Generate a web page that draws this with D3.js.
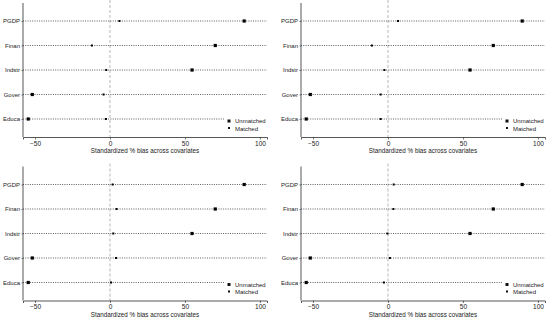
<!DOCTYPE html>
<html>
<head>
<meta charset="utf-8">
<script src="https://cdn.jsdelivr.net/npm/d3@7"></script>
<style>
  body { margin: 0; background: #fff; }
  text { font-family: "Liberation Sans", Arial, sans-serif; fill: #222; }
</style>
</head>
<body>
<svg id="chart" width="550" height="322"></svg>
<script>
// covariates, top to bottom
const covariates = ["PGDP", "Finan", "Indstr", "Gover", "Educa"];
const xTicks = [-50, 0, 50, 100];
const xTitle = "Standardized % bias across covariates";
const legendLabels = ["Unmatched", "Matched"];

// bias before matching (same in every panel)
const unmatched = [89.5, 70.2, 54.7, -51.8, -54.5];
// bias after matching, one array per panel
const matched1 = [6.3, -12.0, -2.5, -4.3, -2.7];
const matched2 = [6.7, -10.7, -2.4, -4.9, -4.9];
const matched3 = [1.8, 4.4, 2.2, 4.0, 0.7];
const matched4 = [3.8, 3.6, -0.4, 1.3, -2.7];

const svg = d3.select("#chart");

const panels = [
  { dx: 0, dy: 0, matched: matched1 },
  { dx: 278, dy: 0, matched: matched2 },
  { dx: 0, dy: 163.5, matched: matched3 },
  { dx: 278, dy: 163.5, matched: matched4 }
];

const plotL = 23, plotR = 267, plotT = 3, plotB = 137;

const x = d3.scaleLinear().domain([-58, 104.7]).range([plotL, plotR]);
const y = d3.scalePoint().domain(covariates).range([plotT, plotB]).padding(0.735);

panels.forEach(p => {
  const g = svg.append("g").attr("transform", `translate(${p.dx},${p.dy})`);

  // zero line
  g.append("line")
    .attr("x1", x(0)).attr("x2", x(0))
    .attr("y1", 0).attr("y2", plotB)
    .attr("stroke", "#999")
    .attr("stroke-width", 0.7)
    .attr("stroke-dasharray", "3,2");

  // dotted row lines
  g.selectAll(".row")
    .data(covariates)
    .enter()
    .append("line")
    .attr("x1", plotL).attr("x2", plotR)
    .attr("y1", d => y(d)).attr("y2", d => y(d))
    .attr("stroke", "#333")
    .attr("stroke-width", 0.8)
    .attr("stroke-dasharray", "1,1.3");

  // legend box (white, covers the end of the last row)
  const lg = g.append("g").attr("transform", `translate(224,${y("Educa") - 2})`);
  lg.append("rect")
    .attr("width", 43).attr("height", 17)
    .attr("fill", "#fff");
  lg.append("rect").attr("x", 3.5).attr("y", 2.5).attr("width", 3).attr("height", 3).attr("fill", "#111");
  lg.append("rect").attr("x", 4).attr("y", 10).attr("width", 2).attr("height", 2).attr("fill", "#111");
  lg.selectAll("text")
    .data(legendLabels)
    .enter()
    .append("text")
    .attr("x", 11)
    .attr("y", (d, i) => 6.2 + i * 7.4)
    .style("font-size", "6px")
    .text(d => d);

  // unmatched markers
  g.selectAll(".unm")
    .data(unmatched)
    .enter()
    .append("rect")
    .attr("x", d => x(d) - 1.6)
    .attr("y", (d, i) => y(covariates[i]) - 1.6)
    .attr("width", 3.2).attr("height", 3.2)
    .attr("fill", "#000");

  // matched markers
  g.selectAll(".mat")
    .data(p.matched)
    .enter()
    .append("rect")
    .attr("x", d => x(d) - 1)
    .attr("y", (d, i) => y(covariates[i]) - 1)
    .attr("width", 2).attr("height", 2)
    .attr("fill", "#000");

  // eix X
  const ax = g.append("g")
    .attr("transform", `translate(0,${plotB})`)
    .call(d3.axisBottom(x).tickValues(xTicks).tickSize(2.5).tickPadding(1.5).tickFormat(d => d < 0 ? "\u2212" + Math.abs(d) : d));
  ax.select(".domain").attr("stroke", "#444").attr("stroke-width", 0.9);
  ax.selectAll(".tick line").attr("stroke", "#444").attr("stroke-width", 0.7);
  ax.selectAll("text").style("font-size", "6.5px").attr("fill", "#222");

  // eix Y
  const ay = g.append("g")
    .attr("transform", `translate(${plotL},0)`)
    .call(d3.axisLeft(y).tickSize(1.5).tickPadding(1.5));
  ay.select(".domain").attr("stroke", "#444").attr("stroke-width", 0.9).attr("d", `M0,${plotT}V${plotB}`);
  ay.selectAll(".tick line").attr("stroke", "#444").attr("stroke-width", 0.7);
  ay.selectAll("text").style("font-size", "6px").attr("fill", "#222");

  g.append("text")
    .attr("x", (plotL + plotR) / 2)
    .attr("y", 153)
    .attr("text-anchor", "middle")
    .style("font-size", "6.3px")
    .text(xTitle);
});
</script>
</body>
</html>
